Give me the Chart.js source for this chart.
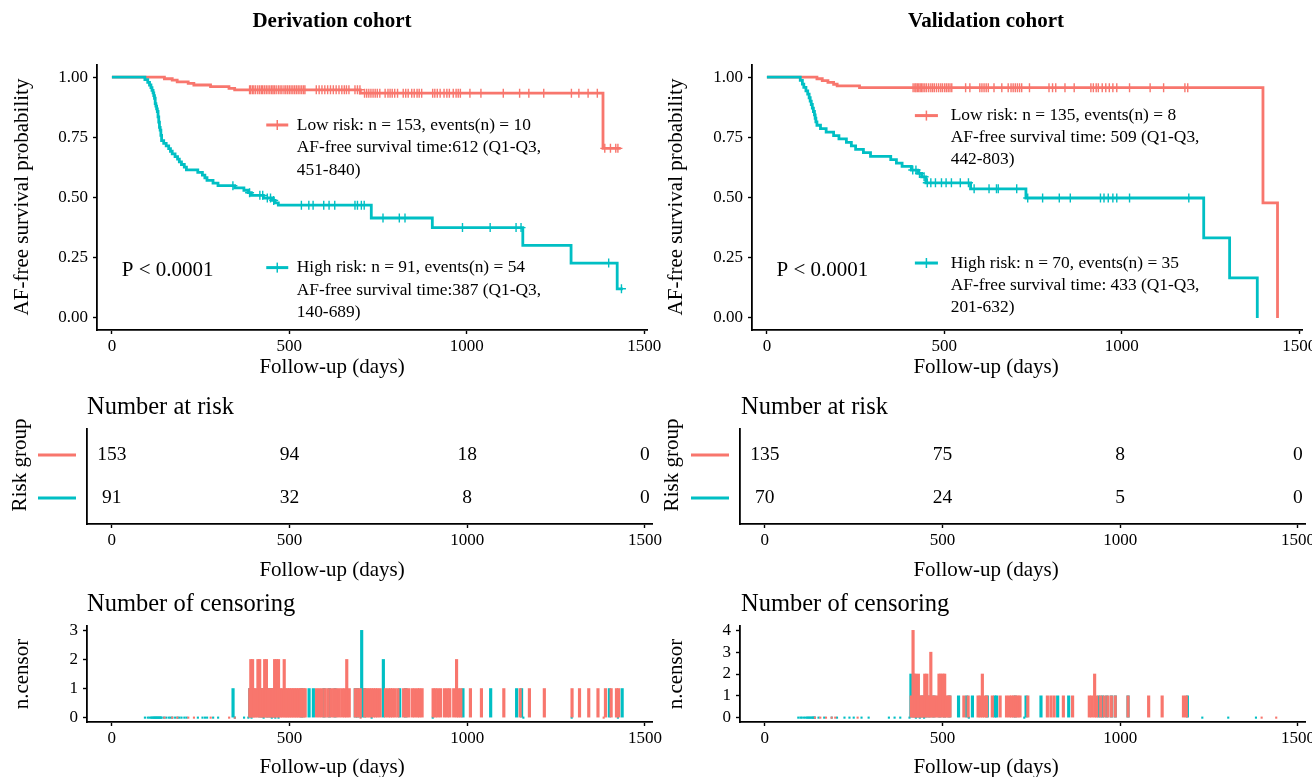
<!DOCTYPE html>
<html><head><meta charset="utf-8">
<script src="https://cdn.jsdelivr.net/npm/chart.js@4.4.1/dist/chart.umd.min.js"></script>
<style>
html,body{margin:0;padding:0;background:#fff;}
body{width:1312px;height:777px;position:relative;overflow:hidden;}
canvas{position:absolute;}
</style></head><body>
<canvas id="kmD" width="665" height="385" style="left:0px;top:0px;width:665px;height:385px"></canvas>
<canvas id="kmV" width="657" height="385" style="left:655px;top:0px;width:657px;height:385px"></canvas>
<canvas id="riskD" width="665" height="197" style="left:0px;top:388px;width:665px;height:197px"></canvas>
<canvas id="riskV" width="657" height="197" style="left:655px;top:388px;width:657px;height:197px"></canvas>
<canvas id="censD" width="665" height="189" style="left:0px;top:588px;width:665px;height:189px"></canvas>
<canvas id="censV" width="657" height="189" style="left:655px;top:588px;width:657px;height:189px"></canvas>
<script>
// ---------------- data ----------------
const RED = '#F8766D', TEAL = '#00BFC4', INK = '#000000';
const SERIF = "'Liberation Serif','Times New Roman',serif";

const xTickValues = [0, 500, 1000, 1500];
const kmTickValues = [0, 0.25, 0.5, 0.75, 1];
const derivCensorTicks = [0, 1, 2, 3];
const validCensorTicks = [0, 1, 2, 3, 4];
const riskTimes = [0, 500, 1000, 1500];

// Derivation cohort KM steps
const derivLowT = [0,148,170,184,215,231,278,330,346,700,1384,1434];
const derivLowS = [1,0.993,0.987,0.980,0.974,0.967,0.960,0.953,0.947,0.933,0.704,0.704];
const derivHighT = [0,93,101,106,110,113,116,118,120,122,124,126,128,130,132,134,136,138,140,146,153,160,165,170,178,185,190,196,204,210,242,255,262,268,285,299,346,372,384,393,427,450,460,469,731,903,1158,1294,1424,1440];
const derivHighS = [1,0.989,0.978,0.967,0.956,0.945,0.934,0.923,0.912,0.890,0.879,0.868,0.857,0.835,0.813,0.791,0.780,0.758,0.736,0.725,0.714,0.703,0.692,0.681,0.670,0.659,0.648,0.637,0.626,0.615,0.604,0.593,0.582,0.571,0.560,0.549,0.540,0.530,0.520,0.509,0.498,0.488,0.478,0.468,0.415,0.375,0.301,0.228,0.121,0.121];

// Derivation censoring (time, count)
const derivLowCensT = [388,391,396,400,405,411,416,421,425,430,435,440,445,450,454,458,463,469,474,479,485,490,495,500,505,510,515,520,525,530,535,540,544,
  576,584,592,600,608,616,624,632,640,648,655,661,668,
  685,692,699,712,718,724,730,736,742,748,755,770,778,784,790,797,805,
  821,828,835,845,852,860,866,873,
  904,910,917,925,936,944,951,962,970,976,982,
  1009,1040,1103,1149,1175,1217,1295,1316,1342,1368,1389,1405,1420,1426];
const derivLowCensN = [1,2,2,1,1,2,2,1,1,2,2,1,1,1,1,2,2,2,1,1,2,1,1,1,1,1,1,1,1,1,1,1,1,
  1,1,1,1,1,1,1,1,1,1,1,2,1,
  1,1,1,1,1,1,1,1,1,1,1,1,1,1,1,1,1,
  1,1,1,1,1,1,1,1,
  1,1,1,1,1,1,1,1,2,1,1,
  1,1,1,1,1,1,1,1,1,1,1,1,1,1];
const derivHighCensT = [341,388,417,425,438,447,456,534,555,567,597,612,628,685,692,703,711,764,810,826,988,1066,1139,1153,1400,1436];
const derivHighCensN = [1,1,1,1,1,1,1,1,1,1,1,1,1,1,1,3,1,2,1,1,1,1,1,1,1,1];

// Validation cohort KM steps
const validLowT = [0,141,156,172,188,198,261,1398,1439];
const validLowS = [1,0.993,0.985,0.978,0.970,0.963,0.956,0.478,0];
const validHighT = [0,94,100,104,110,115,119,122,125,128,131,134,136,138,141,151,167,188,203,224,238,250,272,292,349,365,381,407,425,436,448,574,730,1231,1304,1382];
const validHighS = [1,0.986,0.971,0.957,0.943,0.929,0.914,0.900,0.886,0.871,0.857,0.843,0.829,0.814,0.800,0.786,0.771,0.757,0.743,0.729,0.714,0.700,0.686,0.671,0.657,0.643,0.629,0.614,0.600,0.586,0.561,0.536,0.498,0.332,0.166,0];

// Validation censoring (time, count)
const validLowCensT = [412,417,420,424,428,432,436,440,445,450,456,462,467,472,478,484,490,495,501,506,511,516,521,
  560,572,600,606,612,618,624,640,662,680,688,694,700,706,712,718,740,795,805,814,840,866,
  913,920,928,934,945,955,965,975,986,1022,1080,1118,1178,1186];
const validLowCensN = [1,4,2,2,1,2,1,1,1,2,2,1,3,1,1,1,2,2,2,2,1,1,1,
  1,1,1,1,2,1,1,1,1,1,1,1,1,1,1,1,1,1,1,1,1,1,
  1,1,2,1,1,1,1,1,1,1,1,1,1,1];
const validHighCensT = [411,420,430,443,452,462,475,492,505,520,545,568,584,626,647,652,704,735,777,824,855,940,950,962,975,986,1022,1189];
const validHighCensN = [2,1,1,1,1,1,1,1,1,1,1,1,1,1,1,1,1,1,1,1,1,1,1,1,1,1,1,1];

// Number at risk
const derivRiskLow = [153, 94, 18, 0];
const derivRiskHigh = [91, 32, 8, 0];
const validRiskLow = [135, 75, 8, 0];
const validRiskHigh = [70, 24, 5, 0];

// Text
const derivLowLegend = ['Low risk: n = 153, events(n) = 10', 'AF-free survival time:612 (Q1-Q3,', '451-840)'];
const derivHighLegend = ['High risk: n = 91, events(n) = 54', 'AF-free survival time:387 (Q1-Q3,', '140-689)'];
const validLowLegend = ['Low risk: n = 135, events(n) = 8', 'AF-free survival time: 509 (Q1-Q3,', '442-803)'];
const validHighLegend = ['High risk: n = 70, events(n) = 35', 'AF-free survival time: 433 (Q1-Q3,', '201-632)'];
const pText = 'P < 0.0001';

// ---------------- helpers ----------------
function steps(T, S) { return T.map((t, i) => ({x: t, y: S[i]})); }
function survAt(T, S, t) { let v = S[0]; for (let i = 0; i < T.length; i++) { if (T[i] <= t) v = S[i]; } return v; }
function marks(T, S, CT) { return CT.map(t => ({x: t, y: survAt(T, S, t)})); }
function bars(CT, CN) { return CT.map((t, i) => ({x: t, y: CN[i]})); }
// event times with no censoring: shown as zero-height marks
function zeros(T, S, CT) {
  const out = [];
  for (let i = 1; i < T.length; i++) { if (S[i] < S[i - 1] && CT.indexOf(T[i]) < 0) out.push({x: T[i], y: 0}); }
  return out;
}

const textPlugin = {
  id: 'texts',
  afterDraw(chart, args, opts) {
    const ctx = chart.ctx;
    (opts.items || []).forEach(it => {
      let x, y;
      if (it.xv !== undefined) { x = chart.scales.x.getPixelForValue(it.xv); y = chart.scales.y.getPixelForValue(it.yv); }
      else { x = it.px; y = it.py; }
      ctx.save();
      if (it.key) {
        const x1 = chart.scales.x.getPixelForValue(it.key[1]);
        ctx.strokeStyle = it.color; ctx.lineWidth = 3;
        ctx.beginPath(); ctx.moveTo(x, y); ctx.lineTo(x1, y); ctx.stroke();
        const xm = (x + x1) / 2; ctx.lineWidth = 1.5;
        ctx.beginPath(); ctx.moveTo(xm, y - 5); ctx.lineTo(xm, y + 5); ctx.stroke();
        ctx.restore(); return;
      }
      ctx.font = (it.bold ? 'bold ' : '') + it.size + 'px ' + SERIF;
      ctx.fillStyle = it.color || INK;
      ctx.textAlign = it.align || 'center';
      ctx.textBaseline = 'middle';
      ctx.translate(x, y);
      if (it.rot) ctx.rotate(-Math.PI / 2);
      ctx.fillText(it.text, 0, 0);
      ctx.restore();
    });
  }
};

const riskPlugin = {
  id: 'riskNums',
  afterDatasetsDraw(chart) {
    const ctx = chart.ctx;
    chart.data.datasets.forEach((ds, i) => {
      if (!ds.riskNumbers) return;
      const meta = chart.getDatasetMeta(i);
      ctx.save();
      ctx.font = '19.5px ' + SERIF; ctx.fillStyle = INK; ctx.textAlign = 'center'; ctx.textBaseline = 'middle';
      meta.data.forEach((pt, j) => ctx.fillText(String(ds.riskNumbers[j]), pt.x, pt.y));
      const y = meta.data[0].y, L = chart.chartArea.left;
      ctx.strokeStyle = ds.riskColor; ctx.lineWidth = 3;
      ctx.beginPath(); ctx.moveTo(L - 49, y); ctx.lineTo(L - 11, y); ctx.stroke();
      ctx.restore();
    });
  }
};

function xScale(min, max, h) {
  return {
    type: 'linear', min, max, offset: false,
    afterBuildTicks: a => { a.ticks = xTickValues.map(v => ({value: v})); },
    afterFit: a => { a.height = h; a.paddingLeft = 0; a.paddingRight = 0; },
    ticks: { color: INK, font: {family: SERIF, size: 17}, padding: 2, maxRotation: 0, autoSkip: false, callback: v => String(v) },
    grid: { offset: false, drawOnChartArea: false, drawTicks: true, tickLength: 4, tickWidth: 1.4, color: INK },
    border: { display: true, color: INK, width: 1.8 }
  };
}
function yScale(min, max, w, tickVals, fmt) {
  const s = {
    type: 'linear', min, max,
    afterFit: a => { a.width = w; a.paddingTop = 0; a.paddingBottom = 0; },
    border: { display: true, color: INK, width: 1.8 }
  };
  if (tickVals) {
    s.afterBuildTicks = a => { a.ticks = tickVals.map(v => ({value: v})); };
    s.ticks = { color: INK, font: {family: SERIF, size: 17}, padding: 5, autoSkip: false, callback: fmt };
    s.grid = { offset: false, drawOnChartArea: false, drawTicks: true, tickLength: 4, tickWidth: 1.4, color: INK };
  } else {
    s.afterBuildTicks = a => { a.ticks = []; };
    s.ticks = { display: false };
    s.grid = { drawOnChartArea: false, drawTicks: false, color: INK };
  }
  return s;
}
function baseOptions(pad, scales, items) {
  return {
    responsive: false, animation: false, events: [],
    layout: { padding: pad },
    plugins: { legend: {display: false}, tooltip: {enabled: false}, title: {display: false}, texts: {items} },
    scales
  };
}

// ---------------- KM charts ----------------
function kmChart(id, rightPad, lowT, lowS, highT, highS, lowCT, highCT, items) {
  new Chart(document.getElementById(id), {
    type: 'scatter',
    data: { datasets: [
      { data: marks(highT, highS, highCT), pointStyle: 'cross', pointRadius: 4.5, borderColor: TEAL, borderWidth: 1.4, showLine: false },
      { data: marks(lowT, lowS, lowCT), pointStyle: 'cross', pointRadius: 4.5, borderColor: RED, borderWidth: 1.4, showLine: false },
      { data: steps(highT, highS), showLine: true, stepped: true, borderColor: TEAL, borderWidth: 2.8, pointRadius: 0, fill: false },
      { data: steps(lowT, lowS), showLine: true, stepped: true, borderColor: RED, borderWidth: 2.8, pointRadius: 0, fill: false }
    ]},
    options: baseOptions({left: 0, top: 65, right: rightPad, bottom: 0},
      { x: xScale(-42, 1508, 55), y: yScale(-0.05, 1.05, 97, kmTickValues, v => v.toFixed(2)) }, items),
    plugins: [textPlugin]
  });
}
function legendItems(x0, x1, xt, yLow, yHigh, low, high, color1, color2, dy) {
  const it = [];
  it.push({key: [x0, x1], xv: x0, yv: yLow, color: color1});
  it.push({key: [x0, x1], xv: x0, yv: yHigh, color: color2});
  low.forEach((s, i) => it.push({text: s, xv: xt, yv: yLow - i * dy, align: 'left', size: 17.4}));
  high.forEach((s, i) => it.push({text: s, xv: xt, yv: yHigh - i * dy, align: 'left', size: 17.4}));
  return it;
}
kmChart('kmD', 18, derivLowT, derivLowS, derivHighT, derivHighS, derivLowCensT, derivHighCensT, [
  {text: 'Derivation cohort', px: 332, py: 22, size: 21, bold: true},
  {text: 'AF-free survival probability', px: 22, py: 197, size: 21, rot: true},
  {text: 'Follow-up (days)', px: 332, py: 367, size: 21},
  {text: pText, xv: 28, yv: 0.199, align: 'left', size: 21},
  ...legendItems(435, 497, 521, 0.801, 0.209, derivLowLegend, derivHighLegend, RED, TEAL, 0.094)
]);
kmChart('kmV', 10, validLowT, validLowS, validHighT, validHighS, validLowCensT, validHighCensT, [
  {text: 'Validation cohort', px: 331, py: 22, size: 21, bold: true},
  {text: 'AF-free survival probability', px: 21, py: 197, size: 21, rot: true},
  {text: 'Follow-up (days)', px: 331, py: 367, size: 21},
  {text: pText, xv: 27, yv: 0.195, align: 'left', size: 21},
  ...legendItems(417, 482, 518, 0.84, 0.228, validLowLegend, validHighLegend, RED, TEAL, 0.092)
]);

// ---------------- risk tables ----------------
function riskChart(id, yw, rightPad, low, high, items) {
  new Chart(document.getElementById(id), {
    type: 'scatter',
    data: { datasets: [
      { data: riskTimes.map(t => ({x: t, y: 2})), pointRadius: 0, riskNumbers: low, riskColor: RED },
      { data: riskTimes.map(t => ({x: t, y: 1})), pointRadius: 0, riskNumbers: high, riskColor: TEAL }
    ]},
    options: baseOptions({left: 0, top: 41, right: rightPad, bottom: 0},
      { x: xScale(-70, 1520, 61), y: yScale(0.4, 2.6, yw, null) }, items),
    plugins: [textPlugin, riskPlugin]
  });
}
riskChart('riskD', 87, 13, derivRiskLow, derivRiskHigh, [
  {text: 'Number at risk', px: 87, py: 20, size: 24.5, align: 'left'},
  {text: 'Risk group', px: 20, py: 77, size: 21, rot: true},
  {text: 'Follow-up (days)', px: 332, py: 182, size: 21}
]);
riskChart('riskV', 85, 7, validRiskLow, validRiskHigh, [
  {text: 'Number at risk', px: 86, py: 20, size: 24.5, align: 'left'},
  {text: 'Risk group', px: 17, py: 77, size: 21, rot: true},
  {text: 'Follow-up (days)', px: 331, py: 182, size: 21}
]);

// ---------------- censoring plots ----------------
function censChart(id, yw, rightPad, ymin, ymax, yTicks, lowCT, lowCN, highCT, highCN, lowT, lowS, highT, highS, items) {
  new Chart(document.getElementById(id), {
    type: 'bar',
    data: { datasets: [
      { type: 'bar', data: bars(lowCT, lowCN), backgroundColor: RED, barThickness: 2.5, grouped: false },
      { type: 'bar', data: bars(highCT, highCN), backgroundColor: TEAL, barThickness: 2.5, grouped: false },
      { type: 'scatter', data: zeros(lowT, lowS, lowCT), pointStyle: 'rect', pointRadius: 1.5, backgroundColor: RED, borderWidth: 0 },
      { type: 'scatter', data: zeros(highT, highS, highCT), pointStyle: 'rect', pointRadius: 1.5, backgroundColor: TEAL, borderWidth: 0 }
    ]},
    options: baseOptions({left: 0, top: 38, right: rightPad, bottom: 0},
      { x: xScale(-70, 1520, 55), y: yScale(ymin, ymax, yw, yTicks, v => String(v)) }, items),
    plugins: [textPlugin]
  });
}
censChart('censD', 87, 13, -0.15, 3.15, derivCensorTicks, derivLowCensT, derivLowCensN, derivHighCensT, derivHighCensN, derivLowT, derivLowS, derivHighT, derivHighS, [
  {text: 'Number of censoring', px: 87, py: 17, size: 24.5, align: 'left'},
  {text: 'n.censor', px: 22, py: 86, size: 21, rot: true},
  {text: 'Follow-up (days)', px: 332, py: 179, size: 21}
]);
censChart('censV', 85, 7, -0.2, 4.2, validCensorTicks, validLowCensT, validLowCensN, validHighCensT, validHighCensN, validLowT, validLowS, validHighT, validHighS, [
  {text: 'Number of censoring', px: 86, py: 17, size: 24.5, align: 'left'},
  {text: 'n.censor', px: 21, py: 86, size: 21, rot: true},
  {text: 'Follow-up (days)', px: 331, py: 179, size: 21}
]);
</script>
</body></html>
